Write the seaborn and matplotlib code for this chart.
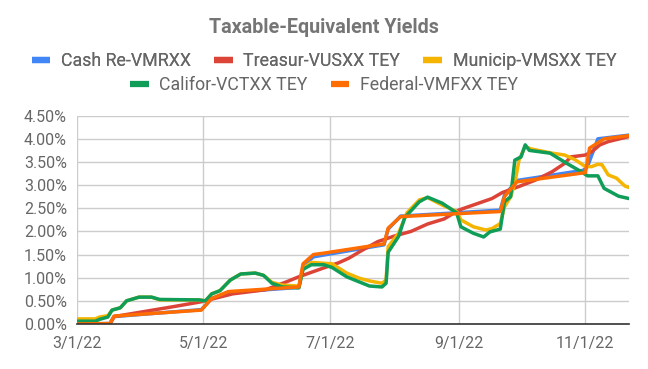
import pandas as pd
import matplotlib
matplotlib.use("Agg")
import matplotlib.pyplot as plt
from matplotlib.lines import Line2D
from matplotlib.ticker import FuncFormatter, MultipleLocator
import seaborn as sns

# Séries (rendements en %)
cash_dates = ["2022-03-01", "2022-03-17", "2022-03-19", "2022-04-30", "2022-05-05", "2022-05-13",
              "2022-06-16", "2022-06-18", "2022-06-23", "2022-06-28", "2022-07-27", "2022-07-29",
              "2022-08-04", "2022-09-21", "2022-09-23", "2022-09-29", "2022-10-31", "2022-11-02",
              "2022-11-07", "2022-11-22"]
cash_vals = [0.00, 0.01, 0.16, 0.31, 0.55, 0.68, 0.79, 1.25, 1.45, 1.49, 1.71, 2.05,
             2.33, 2.46, 2.78, 3.10, 3.32, 3.40, 4.00, 4.08]

treas_dates = ["2022-03-01", "2022-03-17", "2022-03-19", "2022-04-16", "2022-04-30", "2022-05-15",
               "2022-05-31", "2022-06-10", "2022-06-16", "2022-06-26", "2022-07-05", "2022-07-10",
               "2022-07-16", "2022-07-24", "2022-08-01", "2022-08-09", "2022-08-17", "2022-08-25",
               "2022-09-01", "2022-09-08", "2022-09-17", "2022-09-22", "2022-09-30", "2022-10-08",
               "2022-10-16", "2022-10-22", "2022-10-25", "2022-11-01", "2022-11-04", "2022-11-08",
               "2022-11-12", "2022-11-22"]
treas_vals = [0.00, 0.00, 0.16, 0.37, 0.48, 0.65, 0.74, 0.91, 1.02, 1.18, 1.32, 1.42,
              1.58, 1.78, 1.90, 2.00, 2.16, 2.27, 2.46, 2.57, 2.71, 2.84, 2.97, 3.11,
              3.29, 3.47, 3.61, 3.65, 3.72, 3.87, 3.94, 4.05]

muni_dates = ["2022-03-01", "2022-03-10", "2022-03-12", "2022-03-16", "2022-03-18", "2022-03-22",
              "2022-03-25", "2022-03-31", "2022-04-06", "2022-04-10", "2022-04-29", "2022-05-02",
              "2022-05-05", "2022-05-09", "2022-05-14", "2022-05-19", "2022-05-26", "2022-05-30",
              "2022-06-03", "2022-06-08", "2022-06-16", "2022-06-18", "2022-06-22", "2022-07-02",
              "2022-07-09", "2022-07-15", "2022-07-20", "2022-07-26", "2022-07-28", "2022-07-29",
              "2022-08-03", "2022-08-07", "2022-08-13", "2022-08-17", "2022-08-24", "2022-08-31",
              "2022-09-02", "2022-09-08", "2022-09-14", "2022-09-17", "2022-09-21", "2022-09-23",
              "2022-09-26", "2022-09-28", "2022-09-30", "2022-10-03", "2022-10-06", "2022-10-16",
              "2022-10-22", "2022-10-27", "2022-11-01", "2022-11-04", "2022-11-07", "2022-11-09",
              "2022-11-12", "2022-11-16", "2022-11-20", "2022-11-22"]
muni_vals = [0.11, 0.11, 0.15, 0.18, 0.30, 0.35, 0.50, 0.58, 0.58, 0.52, 0.52, 0.50,
             0.65, 0.72, 0.95, 1.08, 1.10, 1.05, 0.90, 0.84, 0.82, 1.20, 1.33, 1.30,
             1.10, 0.99, 0.93, 0.88, 0.95, 1.67, 1.96, 2.40, 2.68, 2.73, 2.57, 2.43,
             2.25, 2.10, 2.03, 2.06, 2.17, 2.53, 2.75, 3.04, 3.54, 3.83, 3.78, 3.69,
             3.65, 3.55, 3.40, 3.40, 3.45, 3.44, 3.22, 3.15, 2.98, 2.95]

calif_dates = ["2022-03-01", "2022-03-10", "2022-03-12", "2022-03-16", "2022-03-18", "2022-03-22",
               "2022-03-25", "2022-03-31", "2022-04-06", "2022-04-10", "2022-04-29", "2022-05-02",
               "2022-05-05", "2022-05-09", "2022-05-14", "2022-05-19", "2022-05-26", "2022-05-30",
               "2022-06-03", "2022-06-08", "2022-06-16", "2022-06-18", "2022-06-22", "2022-06-28",
               "2022-07-02", "2022-07-09", "2022-07-15", "2022-07-20", "2022-07-26", "2022-07-28",
               "2022-07-29", "2022-08-03", "2022-08-06", "2022-08-13", "2022-08-17", "2022-08-24",
               "2022-08-31", "2022-09-02", "2022-09-08", "2022-09-13", "2022-09-16", "2022-09-21",
               "2022-09-23", "2022-09-26", "2022-09-28", "2022-10-01", "2022-10-03", "2022-10-05",
               "2022-10-15", "2022-10-23", "2022-10-30", "2022-11-02", "2022-11-07", "2022-11-10",
               "2022-11-17", "2022-11-22"]
calif_vals = [0.06, 0.06, 0.10, 0.15, 0.30, 0.35, 0.50, 0.58, 0.58, 0.53, 0.52, 0.50,
              0.65, 0.72, 0.95, 1.08, 1.10, 1.05, 0.88, 0.80, 0.78, 1.18, 1.28, 1.28,
              1.22, 1.02, 0.91, 0.82, 0.80, 0.88, 1.55, 1.89, 2.30, 2.64, 2.74, 2.61,
              2.40, 2.10, 1.96, 1.88, 1.99, 2.05, 2.64, 2.75, 3.54, 3.61, 3.87, 3.75,
              3.69, 3.47, 3.29, 3.20, 3.20, 2.93, 2.76, 2.71]

fed_dates = ["2022-03-01", "2022-03-17", "2022-03-19", "2022-04-30", "2022-05-05", "2022-05-13",
             "2022-06-16", "2022-06-18", "2022-06-23", "2022-06-28", "2022-07-27", "2022-07-29",
             "2022-08-04", "2022-09-21", "2022-09-23", "2022-09-29", "2022-11-01", "2022-11-03",
             "2022-11-10", "2022-11-22"]
fed_vals = [0.00, 0.01, 0.17, 0.30, 0.55, 0.70, 0.80, 1.30, 1.50, 1.53, 1.73, 2.07,
            2.32, 2.43, 2.75, 3.07, 3.27, 3.80, 4.00, 4.07]

series_names = ["Cash Re-VMRXX", "Treasur-VUSXX TEY", "Municip-VMSXX TEY",
                "Califor-VCTXX TEY", "Federal-VMFXX TEY"]
colors = ["#4285F4", "#DB4437", "#F4B400", "#0F9D58", "#FF6D01"]

frames = []
for name, d, v in zip(series_names,
                      [cash_dates, treas_dates, muni_dates, calif_dates, fed_dates],
                      [cash_vals, treas_vals, muni_vals, calif_vals, fed_vals]):
    frames.append(pd.DataFrame({"date": pd.to_datetime(d), "value": v, "series": name}))
df = pd.concat(frames, ignore_index=True)

sns.set_style("white")
plt.rcParams["font.family"] = ["Roboto", "DejaVu Sans"]

fig = plt.figure(figsize=(6.48, 3.69), dpi=100)
ax = fig.add_axes([0.1184, 0.122, 0.9707 - 0.1184, 0.6865 - 0.122])

sns.lineplot(data=df, x="date", y="value", hue="series", hue_order=series_names,
             palette=colors, linewidth=2.5, legend=False, ax=ax)

ax.set_xlim(pd.Timestamp("2022-03-01"), pd.Timestamp("2022-11-22"))
ax.set_ylim(0, 4.5)
ax.yaxis.set_major_locator(MultipleLocator(0.5))
ax.yaxis.set_major_formatter(FuncFormatter(lambda v, p: f"{v:.2f}%"))
ticks = pd.to_datetime(["2022-03-01", "2022-05-01", "2022-07-01", "2022-09-01", "2022-11-01"])
ax.set_xticks(ticks)
ax.set_xticklabels([f"{t.month}/{t.day}/{t.strftime('%y')}" for t in ticks])

ax.grid(True, color="#cccccc", linewidth=1)
ax.set_axisbelow(True)
for s in ["top", "right", "left"]:
    ax.spines[s].set_visible(False)
ax.spines["bottom"].set_color("#333333")
ax.spines["bottom"].set_linewidth(1.2)
ax.tick_params(axis="both", length=0, labelsize=11.5, labelcolor="#666666")
ax.tick_params(axis="x", pad=9)
ax.tick_params(axis="y", pad=7)
ax.set_xlabel("")
ax.set_ylabel("")

fig.text(0.5, 0.925, "Taxable-Equivalent Yields", ha="center", va="center",
         fontsize=14.2, fontweight="bold", color="#757575")

handles = [Line2D([0], [0], color=c, linewidth=4.5, solid_capstyle="butt") for c in colors]
leg1 = fig.legend(handles[:3], series_names[:3], loc="center", bbox_to_anchor=(0.5, 0.834),
                  ncol=3, frameon=False, fontsize=12.8, handlelength=1.05, handletextpad=0.6,
                  columnspacing=1.3, labelcolor="#666666")
fig.legend(handles[3:], series_names[3:], loc="center", bbox_to_anchor=(0.5, 0.77),
           ncol=2, frameon=False, fontsize=12.8, handlelength=1.05, handletextpad=0.6,
           columnspacing=1.3, labelcolor="#666666")
fig.add_artist(leg1)

fig.savefig("out.png", dpi=100)
